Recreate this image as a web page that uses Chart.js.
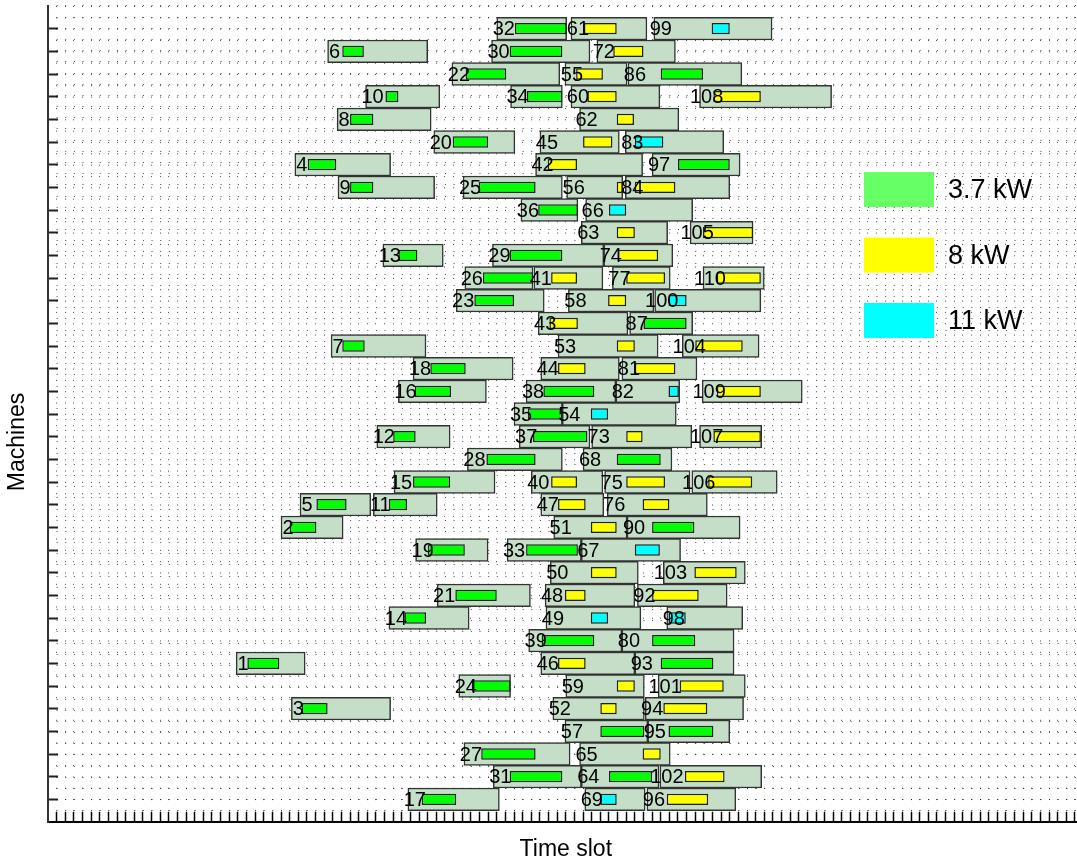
<!DOCTYPE html>
<html>
<head>
<meta charset="utf-8">
<script src="https://cdn.jsdelivr.net/npm/chart.js@4.4.1/dist/chart.umd.min.js"></script>
<style>
  html, body { margin: 0; padding: 0; background: #fff; overflow: hidden; }
  #wrap { width: 1090px; height: 863px; }
  canvas { display: block; }
</style>
</head>
<body>
<div id="wrap"><canvas id="chart" width="1090" height="863"></canvas></div>
<script>
// one entry per job, machines counted from the top row
const jobNo = [
  32, 61, 99,  6, 30, 72,  22, 55, 86,  10, 34, 60, 108,  8, 62,
  20, 45, 83,  4, 42, 97,  9, 25, 56, 84,  36, 66,  63, 105,
  13, 29, 74,  26, 41, 77, 110,  23, 58, 100,  43, 87,  7, 53, 104,
  18, 44, 81,  16, 38, 82, 109,  35, 54,  12, 37, 73, 107,  28, 68,
  15, 40, 75, 106,  5, 11, 47, 76,  2, 51, 90,  19, 33, 67,  50, 103,
  21, 48, 92,  14, 49, 98,  39, 80,  1, 46, 93,  24, 59, 101,
  3, 52, 94,  57, 95,  27, 65,  31, 64, 102,  17, 69, 96
]
const jobMachine = [
  1, 1, 1,  2, 2, 2,  3, 3, 3,  4, 4, 4, 4,  5, 5,
  6, 6, 6,  7, 7, 7,  8, 8, 8, 8,  9, 9,  10, 10,
  11, 11, 11,  12, 12, 12, 12,  13, 13, 13,  14, 14,  15, 15, 15,
  16, 16, 16,  17, 17, 17, 17,  18, 18,  19, 19, 19, 19,  20, 20,
  21, 21, 21, 21,  22, 22, 22, 22,  23, 23, 23,  24, 24, 24,  25, 25,
  26, 26, 26,  27, 27, 27,  28, 28,  29, 29, 29,  30, 30, 30,
  31, 31, 31,  32, 32,  33, 33,  34, 34, 34,  35, 35, 35
]
const slotFrom = [
  52.0, 60.6, 70.2,  32.4, 51.4, 63.6,  46.8, 59.9, 67.2,  36.8, 53.6, 60.6, 75.5,  33.5, 61.6,
  44.7, 57.0, 66.9,  28.6, 56.5, 70.0,  33.6, 48.1, 60.1, 66.9,  54.8, 62.3,  61.8, 74.4,
  38.8, 51.5, 64.4,  48.3, 56.3, 65.4, 75.9,  47.3, 60.3, 70.3,  56.8, 67.4,  32.8, 59.1, 73.5,
  42.3, 57.1, 66.5,  40.6, 55.4, 65.8, 75.8,  54.0, 59.6,  38.1, 54.6, 63.0, 75.5,  48.6, 62.0,
  40.1, 56.0, 64.5, 74.6,  29.2, 37.7, 57.1, 64.8,  27.0, 58.6, 67.1,  42.6, 53.2, 61.8,  58.2, 71.3,
  45.1, 57.6, 68.3,  39.5, 57.7, 71.7,  55.7, 66.5,  21.8, 57.1, 68.0,  47.6, 60.0, 70.7,
  28.2, 58.5, 69.2,  59.9, 69.5,  48.2, 61.6,  51.6, 61.8, 70.9,  41.7, 62.2, 69.4
]
const slotTo = [
  60.1, 69.4, 83.9,  44.0, 62.8, 72.7,  59.3, 67.1, 80.4,  45.4, 59.6, 70.9, 90.8,  44.4, 73.1,
  54.1, 66.2, 78.3,  39.7, 68.9, 80.2,  44.8, 59.6, 66.6, 79.0,  61.4, 74.7,  71.8, 81.7,
  45.8, 64.4, 72.4,  56.2, 64.3, 72.1, 83.0,  57.5, 70.2, 82.6,  67.2, 74.7,  43.8, 70.7, 82.4,
  53.9, 66.2, 75.2,  50.8, 65.8, 73.2, 87.4,  59.6, 72.8,  46.6, 62.8, 74.6, 82.7,  59.6, 72.3,
  51.8, 64.3, 74.4, 84.5,  37.4, 45.1, 64.4, 76.4,  34.2, 67.1, 80.2,  51.0, 61.8, 73.3,  68.4, 80.8,
  55.9, 68.0, 78.7,  48.8, 68.7, 80.5,  66.5, 79.5,  29.8, 68.0, 79.5,  53.6, 69.1, 80.8,
  39.7, 69.1, 80.6,  69.5, 79.0,  60.5, 72.1,  61.8, 70.8, 82.7,  52.3, 69.2, 79.7
]
const chargeFrom = [
  54.1, 62.1, 76.9,  34.1, 53.5, 65.5,  48.4, 61.2, 71.0,  39.1, 55.5, 62.5, 77.1,  35.0, 65.9,
  46.9, 62.0, 68.0,  30.1, 57.9, 73.0,  35.0, 49.9, 65.9, 68.0,  56.8, 65.0,  65.9, 75.9,
  40.6, 53.5, 66.0,  50.4, 58.3, 67.0, 77.5,  49.4, 64.9, 71.9,  58.1, 69.0,  34.1, 65.9, 75.0,
  44.3, 59.1, 68.0,  42.5, 57.4, 71.9, 77.5,  55.6, 62.9,  40.0, 56.2, 67.0, 77.1,  50.8, 65.9,
  42.3, 58.3, 67.0, 76.5,  31.1, 39.5, 59.1, 68.9,  28.0, 62.9, 70.0,  44.0, 55.4, 68.0,  62.9, 74.9,
  47.2, 59.9, 70.0,  41.3, 62.9, 71.9,  57.2, 70.0,  23.1, 59.1, 71.0,  49.1, 65.9, 73.2,
  29.4, 64.0, 71.3,  64.0, 71.9,  50.2, 68.9,  53.5, 65.0, 73.8,  43.3, 64.0, 71.7
]
const chargeTo = [
  60.1, 65.9, 79.0,  36.6, 59.6, 69.0,  53.1, 64.3, 75.9,  40.6, 59.6, 65.9, 82.6,  37.7, 67.9,
  51.0, 65.4, 71.3,  33.4, 61.3, 79.0,  37.7, 56.5, 66.6, 72.7,  61.4, 67.0,  68.0, 81.7,
  42.8, 59.6, 70.7,  56.2, 61.3, 71.5, 82.6,  54.0, 67.0, 74.0,  61.4, 74.0,  36.7, 68.0, 80.5,
  48.4, 62.3, 72.7,  46.7, 63.3, 73.1, 82.6,  59.6, 64.9,  42.6, 62.5, 68.9, 82.6,  56.5, 71.0,
  46.6, 61.3, 71.5, 81.6,  34.6, 41.6, 62.3, 72.0,  31.1, 65.9, 74.9,  48.3, 61.4, 70.9,  65.9, 79.8,
  52.0, 62.3, 75.4,  43.8, 64.9, 73.9,  63.3, 75.0,  26.8, 62.3, 77.1,  53.6, 68.0, 78.3,
  32.4, 65.9, 76.4,  69.1, 77.1,  56.5, 71.0,  59.6, 70.0, 78.4,  47.3, 65.9, 76.5
]
const chargeKW = [
  3.7, 8, 11,  3.7, 3.7, 8,  3.7, 8, 3.7,  3.7, 3.7, 8, 8,  3.7, 8,
  3.7, 8, 11,  3.7, 8, 3.7,  3.7, 3.7, 8, 8,  3.7, 11,  8, 8,
  3.7, 3.7, 8,  3.7, 8, 8, 8,  3.7, 8, 11,  8, 3.7,  3.7, 8, 8,
  3.7, 8, 8,  3.7, 3.7, 11, 8,  3.7, 11,  3.7, 3.7, 8, 8,  3.7, 3.7,
  3.7, 8, 8, 8,  3.7, 3.7, 8, 8,  3.7, 8, 3.7,  3.7, 3.7, 11,  8, 8,
  3.7, 8, 8,  3.7, 11, 11,  3.7, 3.7,  3.7, 8, 3.7,  3.7, 8, 8,
  3.7, 8, 8,  3.7, 3.7,  3.7, 8,  3.7, 3.7, 8,  3.7, 11, 8
]

const powerLevels = [3.7, 8, 11]
const powerNames = ["3.7 kW", "8 kW", "11 kW"]
const barColors = ["#00ff00", "#ffff00", "#00ffff"]
const legendColors = ["#66ff66", "#ffff00", "#00ffff"]

const FONT = "'Liberation Sans', Arial, Helvetica, sans-serif"
Chart.defaults.font.family = FONT

const windows = jobNo.map((n, i) => ({ x: [slotFrom[i], slotTo[i]], y: jobMachine[i] }))

const chargeSets = powerLevels.map((kw, k) => ({
  label: powerNames[k],
  data: jobNo
    .map((n, i) => ({ x: [chargeFrom[i], chargeTo[i]], y: jobMachine[i], kw: chargeKW[i] }))
    .filter(d => d.kw === kw),
  backgroundColor: barColors[k],
  borderColor: "#222",
  borderWidth: 1.5,
  borderSkipped: false,
  grouped: false,
  categoryPercentage: 1,
  barPercentage: 0.5,
  order: 1
}))

const jobLabels = {
  id: "jobLabels",
  afterDatasetsDraw(chart) {
    const { ctx, scales: { x, y } } = chart
    ctx.save()
    ctx.font = `20px ${FONT}`
    ctx.fillStyle = "#000"
    ctx.textAlign = "center"
    ctx.textBaseline = "middle"
    jobNo.forEach((n, i) => {
      ctx.fillText(String(n), x.getPixelForValue(slotFrom[i]) + 7, y.getPixelForValue(jobMachine[i]) + 1)
    })
    ctx.restore()
  }
}

// legend boxes drawn inside the plot, right side
const powerLegend = {
  id: "powerLegend",
  afterDatasetsDraw(chart) {
    const { ctx, chartArea } = chart
    const left = chartArea.left + 816
    ctx.save()
    ctx.font = `27px ${FONT}`
    ctx.textBaseline = "middle"
    powerNames.forEach((name, k) => {
      const top = chartArea.top + 166 + k * 65.5
      ctx.fillStyle = legendColors[k]
      ctx.fillRect(left, top, 70, 35)
      ctx.fillStyle = "#000"
      ctx.fillText(name, left + 84, top + 19)
    })
    ctx.restore()
  }
}

const yTitle = {
  id: "yTitle",
  afterDraw(chart) {
    const { ctx } = chart
    ctx.save()
    ctx.translate(18, 442)
    ctx.rotate(-Math.PI / 2)
    ctx.font = `23px ${FONT}`
    ctx.fillStyle = "#000"
    ctx.textAlign = "center"
    ctx.textBaseline = "middle"
    ctx.fillText("Machines", 0, 0)
    ctx.restore()
  }
}

new Chart(document.getElementById("chart"), {
  type: "bar",
  data: {
    datasets: [
      ...chargeSets,
      {
        label: "window",
        data: windows,
        backgroundColor: "rgb(196, 222, 200)",
        borderColor: "#333",
        borderWidth: 1.5,
        borderSkipped: false,
        grouped: false,
        categoryPercentage: 1,
        barPercentage: 1,
        order: 2
      }
    ]
  },
  options: {
    indexAxis: "y",
    responsive: false,
    animation: false,
    events: [],
    layout: { padding: { top: 6, right: 6.4, left: 0, bottom: 0 } },
    plugins: {
      legend: { display: false },
      tooltip: { enabled: false }
    },
    scales: {
      x: {
        type: "linear",
        min: 0,
        max: 120,
        ticks: { display: false, stepSize: 1 },
        grid: {
          color: "rgba(0,0,0,0.7)",
          tickLength: -10,
          tickWidth: 1.5,
          tickColor: c => (c.tick && c.tick.value > 0 ? "#000" : "rgba(0,0,0,0)")
        },
        border: { color: "#000", width: 2, dash: [1, 10.33] },
        title: {
          display: true,
          text: "Time slot",
          color: "#000",
          font: { size: 23 },
          padding: { top: 0, bottom: 0 }
        },
        afterFit: s => { s.height = 41 }
      },
      // machine rows: one tick per machine, inward tick marks only
      y: {
        type: "linear",
        position: "left",
        min: 0,
        max: 36,
        reverse: true,
        offset: false,
        ticks: { display: false, stepSize: 1 },
        grid: {
          offset: false,
          drawOnChartArea: false,
          tickLength: -10,
          tickWidth: 2,
          tickColor: c => {
            const v = c.tick ? c.tick.value : 0
            return v > 0 && v < 36 ? "#222" : "rgba(0,0,0,0)"
          }
        },
        border: { color: "#333", width: 2 },
        afterFit: s => { s.width = 48 }
      },
      // dotted half-row grid
      yGrid: {
        type: "linear",
        position: "left",
        min: 0,
        max: 36,
        reverse: true,
        ticks: { display: false, stepSize: 0.5 },
        grid: { color: "rgba(0,0,0,0.7)", drawTicks: false },
        border: { display: false, dash: [1, 7.63] },
        afterFit: s => { s.width = 0 }
      }
    }
  },
  plugins: [jobLabels, powerLegend, yTitle]
})
</script>
</body>
</html>
